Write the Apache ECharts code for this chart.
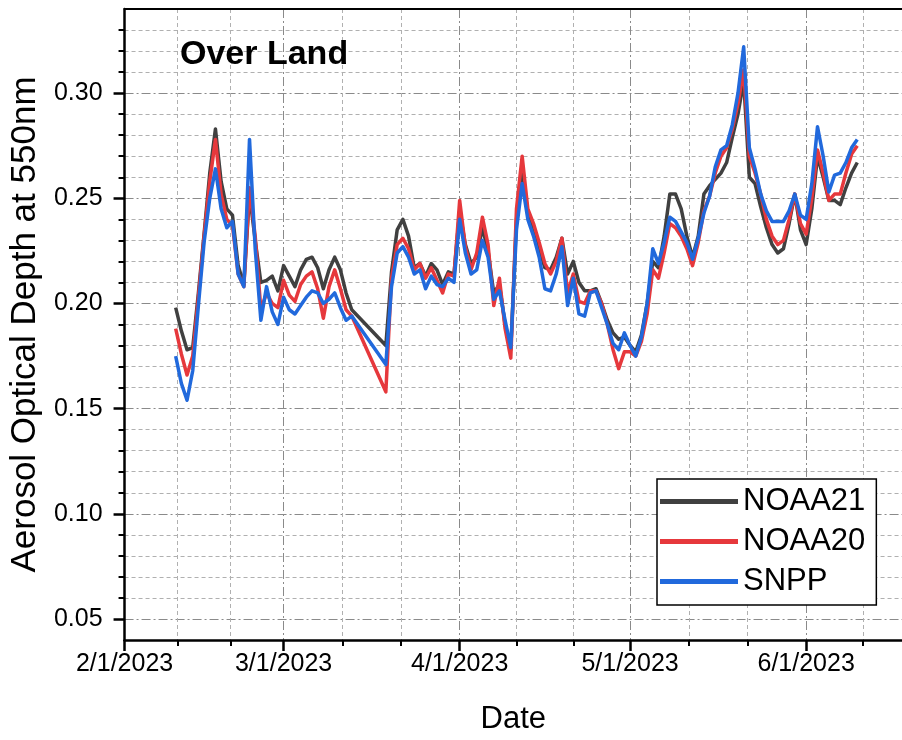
<!DOCTYPE html>
<html><head><meta charset="utf-8">
<script src="https://cdn.jsdelivr.net/npm/echarts@6/dist/echarts.min.js"></script>
<style>html,body{margin:0;padding:0;background:#fff}#c{width:902px;height:740px}</style>
</head><body><div id="c"></div>
<script>
const dates = [
'2023-02-10','2023-02-11','2023-02-12','2023-02-13','2023-02-14','2023-02-15','2023-02-16','2023-02-17','2023-02-18','2023-02-19',
'2023-02-20','2023-02-21','2023-02-22','2023-02-23','2023-02-24','2023-02-25','2023-02-26','2023-02-27','2023-02-28',
'2023-03-01','2023-03-02','2023-03-03','2023-03-04','2023-03-05','2023-03-06','2023-03-07','2023-03-08','2023-03-09','2023-03-10',
'2023-03-11','2023-03-12','2023-03-13',
'2023-03-19','2023-03-20','2023-03-21','2023-03-22','2023-03-23','2023-03-24','2023-03-25','2023-03-26','2023-03-27','2023-03-28',
'2023-03-29','2023-03-30','2023-03-31',
'2023-04-01','2023-04-02','2023-04-03','2023-04-04','2023-04-05','2023-04-06','2023-04-07','2023-04-08','2023-04-09','2023-04-10',
'2023-04-11','2023-04-12','2023-04-13','2023-04-14','2023-04-15','2023-04-16','2023-04-17','2023-04-18','2023-04-19','2023-04-20',
'2023-04-21','2023-04-22','2023-04-23','2023-04-24','2023-04-25','2023-04-26','2023-04-27','2023-04-28','2023-04-29','2023-04-30',
'2023-05-01','2023-05-02','2023-05-03','2023-05-04','2023-05-05','2023-05-06','2023-05-07','2023-05-08','2023-05-09','2023-05-10',
'2023-05-11','2023-05-12','2023-05-13','2023-05-14','2023-05-15','2023-05-16','2023-05-17','2023-05-18','2023-05-19','2023-05-20',
'2023-05-21','2023-05-22','2023-05-23','2023-05-24','2023-05-25','2023-05-26','2023-05-27','2023-05-28','2023-05-29','2023-05-30',
'2023-05-31',
'2023-06-01','2023-06-02','2023-06-03','2023-06-04','2023-06-05','2023-06-06','2023-06-07','2023-06-08','2023-06-09','2023-06-10'
];
const noaa21 = [
0.198,0.187,0.178,0.179,0.205,0.233,0.262,0.283,0.258,0.245,0.242,0.218,0.209,0.252,0.230,0.210,0.211,0.213,0.206,
0.218,0.213,0.208,0.216,0.221,0.222,0.217,0.207,0.216,0.222,0.216,0.205,0.197,
0.180,0.215,0.235,0.240,0.232,0.217,0.219,0.213,0.219,0.216,0.209,0.215,0.214,
0.244,0.228,0.219,0.222,0.236,0.225,0.205,0.209,0.190,0.178,0.240,0.263,0.243,0.233,0.226,0.217,0.216,0.222,0.231,0.214,
0.220,0.210,0.206,0.206,0.207,0.200,0.192,0.186,0.183,0.184,
0.180,0.177,0.185,0.200,0.220,0.217,0.232,0.252,0.252,0.245,0.232,0.222,0.232,0.252,0.256,0.259,0.262,0.267,0.279,0.290,
0.306,0.260,0.257,0.246,0.236,0.228,0.224,0.226,0.238,0.252,0.235,
0.228,0.245,0.270,0.260,0.249,0.249,0.247,0.255,0.262,0.267
];
const noaa20 = [
0.188,0.176,0.166,0.175,0.203,0.232,0.258,0.278,0.252,0.240,0.237,0.214,0.208,0.255,0.232,0.197,0.205,0.200,0.198,
0.211,0.204,0.201,0.209,0.213,0.215,0.207,0.193,0.208,0.216,0.207,0.197,0.194,
0.158,0.212,0.228,0.231,0.226,0.216,0.219,0.212,0.217,0.211,0.205,0.214,0.213,
0.249,0.227,0.216,0.224,0.241,0.228,0.199,0.212,0.188,0.174,0.245,0.270,0.245,0.238,0.229,0.219,0.214,0.220,0.231,0.205,
0.214,0.201,0.200,0.206,0.206,0.200,0.190,0.178,0.169,0.177,
0.177,0.175,0.182,0.195,0.216,0.212,0.224,0.238,0.236,0.232,0.226,0.218,0.229,0.244,0.251,0.262,0.270,0.274,0.283,0.295,
0.311,0.270,0.262,0.252,0.240,0.232,0.228,0.230,0.240,0.252,0.238,
0.233,0.250,0.273,0.262,0.249,0.252,0.252,0.262,0.271,0.275
];
const snpp = [
0.175,0.162,0.154,0.168,0.199,0.229,0.250,0.264,0.245,0.236,0.239,0.214,0.208,0.278,0.226,0.192,0.208,0.196,0.190,
0.203,0.197,0.195,0.199,0.203,0.206,0.205,0.200,0.202,0.205,0.198,0.192,0.194,
0.171,0.208,0.224,0.227,0.222,0.214,0.216,0.207,0.213,0.209,0.208,0.212,0.210,
0.240,0.224,0.214,0.216,0.230,0.222,0.202,0.206,0.192,0.179,0.235,0.257,0.240,0.232,0.222,0.207,0.206,0.214,0.227,0.199,
0.212,0.195,0.194,0.205,0.206,0.198,0.190,0.181,0.178,0.186,
0.180,0.175,0.184,0.200,0.226,0.219,0.229,0.241,0.239,0.234,0.229,0.221,0.231,0.243,0.251,0.265,0.273,0.275,0.285,0.300,
0.322,0.274,0.264,0.252,0.244,0.239,0.239,0.239,0.244,0.252,0.242,
0.240,0.257,0.284,0.270,0.253,0.261,0.262,0.267,0.274,0.278
];
const seriesNames = ['NOAA21','NOAA20','SNPP'];
const seriesColors = ['#404040','#e6383c','#2169dc'];
const monthTicks = ['2023-02-01','2023-03-01','2023-04-01','2023-05-01','2023-06-01'];
const minorDateTicks = ['2023-02-10T08:00','2023-02-19T16:00','2023-03-11T08:00','2023-03-21T16:00','2023-04-11T00:00',
  '2023-04-21T00:00','2023-05-11T08:00','2023-05-21T16:00','2023-06-11T00:00'];
const xRange = ['2023-02-01T00:00','2023-06-17T21:00'];
const yMajorTicks = [0.05,0.10,0.15,0.20,0.25,0.30];
const yMinorTicks = [0.06,0.07,0.08,0.09,0.11,0.12,0.13,0.14,0.16,0.17,0.18,0.19,0.21,0.22,0.23,0.24,0.26,0.27,0.28,0.29,0.31,0.32,0.33];
const yRange = [0.04,0.34];

function t(s){ return Date.parse(s.length === 10 ? s + 'T00:00:00Z' : s + ':00Z'); }
const FONT = 'Arial, "Liberation Sans", sans-serif';
const pair = arr => dates.map((d,i)=>[t(d), arr[i]]);
const allSeries = [noaa21, noaa20, snpp];
const fmtDate = v => {const d=new Date(v); return (d.getUTCMonth()+1)+'/'+d.getUTCDate()+'/'+d.getUTCFullYear();};

const chart = echarts.init(document.getElementById('c'), null, {renderer:'canvas'});
const majorDash = [9,3,2,3];
const minorDash = [4,3];
chart.setOption({
  animation:false,
  backgroundColor:'#fff',
  textStyle:{fontFamily:FONT},
  title:{text:'Over Land', left:175, top:33, textStyle:{fontSize:34, fontWeight:'bold', color:'#000', fontFamily:FONT}},
  grid:{left:124, right:0, top:9, bottom:99, containLabel:false},
  legend:{
    data:seriesNames, orient:'vertical', left:657, top:479,
    icon:'rect', itemWidth:78, itemHeight:5, itemGap:9,
    padding:[7,11,8,3], borderColor:'#000', borderWidth:1.5, backgroundColor:'#fff',
    textStyle:{fontSize:31, color:'#000', fontFamily:FONT}
  },
  xAxis:[
    {type:'value', min:t(xRange[0]), max:t(xRange[1]), position:'bottom', scale:true,
     axisLine:{show:true, lineStyle:{color:'#000', width:2.5}},
     axisTick:{show:true, customValues:monthTicks.map(t), length:11, lineStyle:{color:'#000', width:2.5}},
     axisLabel:{show:true, customValues:monthTicks.map(t), margin:12, fontSize:25, color:'#000', fontFamily:FONT,
       formatter:fmtDate},
     splitLine:{show:true, lineStyle:{color:'#8a8a8a', width:1, type:majorDash}},
     name:'Date', nameLocation:'middle', nameGap:64, nameTextStyle:{fontSize:31, color:'#000', fontFamily:FONT}},
    {type:'value', min:t(xRange[0]), max:t(xRange[1]), position:'bottom', scale:true,
     axisLine:{show:false},
     axisTick:{show:true, customValues:minorDateTicks.map(t), length:6, lineStyle:{color:'#000', width:2}},
     axisLabel:{show:false},
     splitLine:{show:true, lineStyle:{color:'#b0b0b0', width:1, type:minorDash}}},
    {type:'value', min:t(xRange[0]), max:t(xRange[1]), position:'top', scale:true,
     axisLine:{show:true, lineStyle:{color:'#000', width:2}},
     axisTick:{show:false}, axisLabel:{show:false}, splitLine:{show:false}}
  ],
  yAxis:[
    {type:'value', min:yRange[0], max:yRange[1], position:'left',
     axisLine:{show:true, lineStyle:{color:'#000', width:2.5}},
     axisTick:{show:true, customValues:yMajorTicks, length:11, lineStyle:{color:'#000', width:2.5}},
     axisLabel:{show:true, customValues:yMajorTicks, margin:22, fontSize:25, color:'#000', fontFamily:FONT,
       formatter:v=>v.toFixed(2)},
     splitLine:{show:true, lineStyle:{color:'#8a8a8a', width:1, type:majorDash}},
     name:'Aerosol Optical Depth at 550nm', nameLocation:'middle', nameGap:79,
     nameTextStyle:{fontSize:35, color:'#000', fontFamily:FONT}},
    {type:'value', min:yRange[0], max:yRange[1], position:'left',
     axisLine:{show:false},
     axisTick:{show:true, customValues:yMinorTicks, length:6, lineStyle:{color:'#000', width:2}},
     axisLabel:{show:false},
     splitLine:{show:true, lineStyle:{color:'#b0b0b0', width:1, type:minorDash}}}
  ],
  series: seriesNames.map((n,i)=>({
    name:n, type:'line', xAxisIndex:0, yAxisIndex:0, data:pair(allSeries[i]),
    symbol:'none', showSymbol:false, color:seriesColors[i],
    lineStyle:{width:3.5, color:seriesColors[i], join:'round'},
    emphasis:{disabled:true}, z:2+i
  }))
});
</script></body></html>
